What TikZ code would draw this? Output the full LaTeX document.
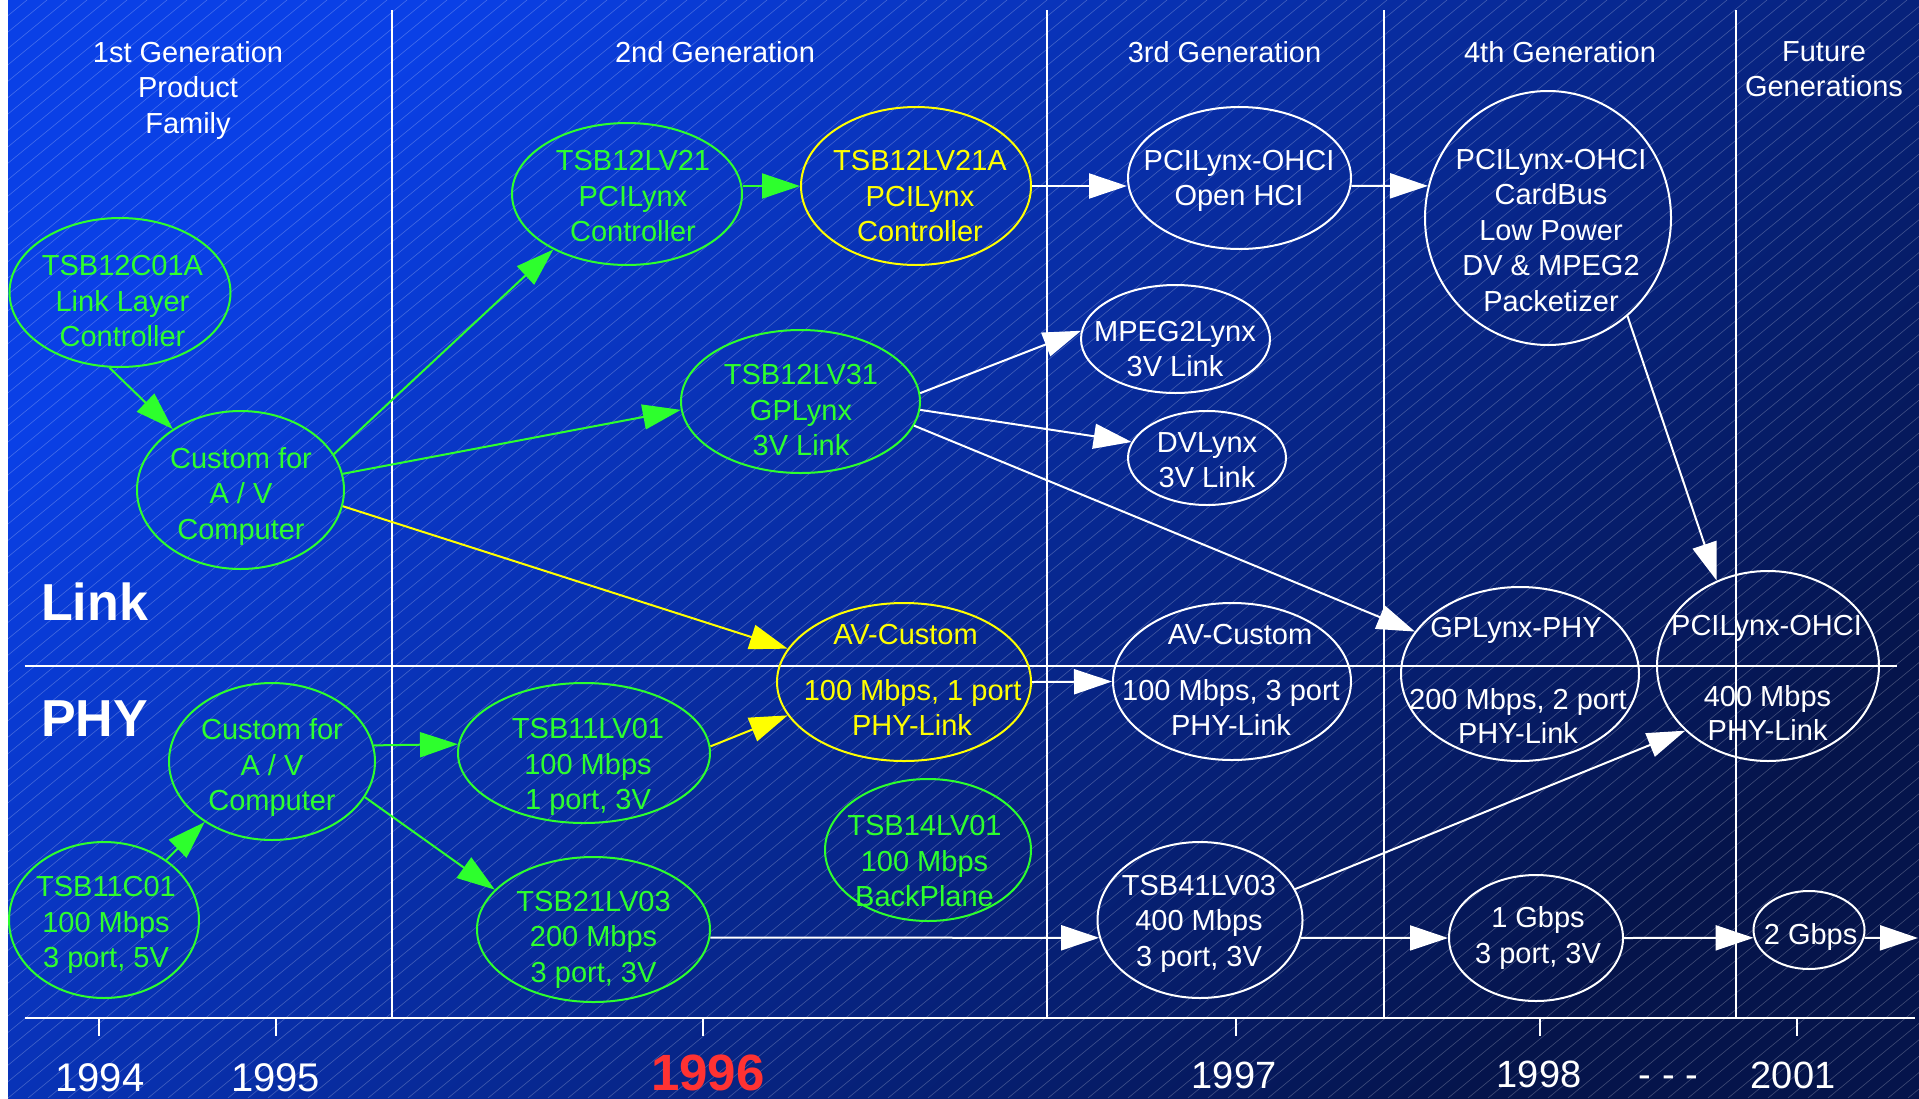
\documentclass[tikz,border=0pt]{standalone}
\usepackage{fontspec}
\setmainfont{Liberation Sans}
\usetikzlibrary{shapes.geometric,arrows.meta}
\definecolor{grn}{RGB}{45,255,45}
\definecolor{yel}{RGB}{255,255,0}
\definecolor{wht}{RGB}{255,255,255}
\definecolor{redy}{RGB}{255,50,50}
\definecolor{bgA}{RGB}{10,64,230}
\definecolor{bgB}{RGB}{5,20,75}
\newcommand{\myfs}[2]{\fontsize{#1}{#2}\selectfont}
\tikzset{
  ell/.style={ellipse, draw=#1, line width=2pt, inner sep=0pt},
  txt/.style={text=#1, font=\myfs{29}{35.5}, align=center, inner sep=0pt},
  arr/.style={draw=#1, line width=2pt, -{Triangle[length=38pt,width=25pt]}},
  sepline/.style={draw=white, line width=2pt},
  hatchline/.style={draw=white, opacity=0.24, line width=0.6pt},
  yr/.style={text=white, font=\myfs{40}{48}, inner sep=0pt, anchor=base},
}
\begin{document}
\begin{tikzpicture}[x=1pt,y=-1pt]
\useasboundingbox (0,0) rectangle (1919,1098);
% background
\fill[white] (0,0) rectangle (1919,1098);
\shade[top color=bgA, bottom color=bgB, shading angle=45] (8,0) rectangle (1919,1098);
\begin{scope}
  \clip (8,0) rectangle (1919,1098);
  \foreach \i in {-68,...,96} {
    \draw[hatchline] ({8+20*\i},1098) -- ++(1339,-1098);
  }
\end{scope}
% grid lines
\foreach \x in {392,1047.3,1384,1736} {
  \draw[sepline] (\x,10) -- (\x,1018);
}
\draw[sepline] (24.5,666) -- (1897,666);
\draw[sepline] (24.5,1017.7) -- (1914.7,1017.7);
\foreach \x in {99,276,702.5,1236,1540,1797} {
  \draw[sepline] (\x,1018) -- (\x,1036);
}
% headers
\node[txt=white] (h1) at (188,90) {1st Generation\\Product\\Family};
\node[txt=white, anchor=base] (h2) at (715,62) {2nd Generation};
\node[txt=white, anchor=base] (h3) at (1224.5,62) {3rd Generation};
\node[txt=white, anchor=base] (h4) at (1560,62) {4th Generation};
\node[txt=white] (h5) at (1824,69) {Future\\Generations};
% Link / PHY
\node[text=white, font=\bfseries\myfs{52}{60}, inner sep=0pt, anchor=base west] (lk) at (41,620) {Link};
\node[text=white, font=\bfseries\myfs{52}{60}, inner sep=0pt, anchor=base west] (ph) at (41,736) {PHY};
% years
\node[yr] (y94) at (100,1091) {1994};
\node[yr] (y95) at (275.5,1091) {1995};
\node[text=redy, font=\bfseries\myfs{51}{60}, inner sep=0pt, anchor=base] (y96) at (708,1090) {1996};
\node[yr, font=\myfs{38}{46}] (y97) at (1234,1088) {1997};
\node[yr, font=\myfs{38}{46}] (y98) at (1539,1087) {1998};
\node[yr, font=\myfs{38}{46}] (ydd) at (1668.5,1087) {- - -};
\node[yr, font=\myfs{38}{46}] (y01) at (1793,1088) {2001};
% ellipses
\node[ell=grn, minimum width=221pt, minimum height=149pt] (e1) at (120,292.5) {};
\node[ell=grn, minimum width=207pt, minimum height=158pt] (e2) at (240.5,490) {};
\node[ell=grn, minimum width=230pt, minimum height=142pt] (e3) at (627,194) {};
\node[ell=yel, minimum width=230pt, minimum height=158pt] (e4) at (916,186) {};
\node[ell=wht, minimum width=223pt, minimum height=142pt] (e5) at (1239.5,178) {};
\node[ell=wht, minimum width=246pt, minimum height=254pt] (e6) at (1548,218) {};
\node[ell=wht, minimum width=189pt, minimum height=108pt] (e7) at (1175.5,339) {};
\node[ell=grn, minimum width=239pt, minimum height=143pt] (e8) at (800.5,401.5) {};
\node[ell=wht, minimum width=158pt, minimum height=94pt] (e9) at (1207,458) {};
\node[ell=yel, minimum width=254pt, minimum height=158pt] (e10) at (904,682) {};
\node[ell=wht, minimum width=238pt, minimum height=157pt] (e11) at (1232,681.5) {};
\node[ell=wht, minimum width=238pt, minimum height=174pt] (e12) at (1520,674) {};
\node[ell=wht, minimum width=222pt, minimum height=190pt] (e13) at (1768,666) {};
\node[ell=grn, minimum width=206pt, minimum height=157pt] (e14) at (272,761.5) {};
\node[ell=grn, minimum width=252pt, minimum height=140pt] (e15) at (584,753) {};
\node[ell=grn, minimum width=190pt, minimum height=156pt] (e16) at (104,920) {};
\node[ell=grn, minimum width=233pt, minimum height=145pt] (e17) at (593.5,929.5) {};
\node[ell=grn, minimum width=206pt, minimum height=142pt] (e18) at (928,850) {};
\node[ell=wht, minimum width=205pt, minimum height=156pt] (e19) at (1200,920) {};
\node[ell=wht, minimum width=174pt, minimum height=126pt] (e20) at (1536,938) {};
\node[ell=wht, minimum width=111pt, minimum height=78pt] (e21) at (1809,930) {};
\coordinate (aend) at (1918,938);
% texts
\node[txt=grn] (t1) at (122.5,301.5) {TSB12C01A\\Link Layer\\Controller};
\node[txt=grn] (t2) at (241,496.5) {Custom for\\A / V\\Computer};
\node[txt=grn] (t3) at (633,196.5) {TSB12LV21\\PCILynx\\Controller};
\node[txt=yel] (t4) at (920,196.5) {TSB12LV21A\\PCILynx\\Controller};
\node[txt=wht] (t5) at (1239,181) {PCILynx-OHCI\\Open HCI};
\node[txt=wht] (t6) at (1551,230.5) {PCILynx-OHCI\\CardBus\\Low Power\\DV \& MPEG2\\Packetizer};
\node[txt=wht] (t7) at (1175,349) {MPEG2Lynx\\3V Link};
\node[txt=grn] (t8) at (801,410.5) {TSB12LV31\\GPLynx\\3V Link};
\node[txt=wht] (t9) at (1207,460) {DVLynx\\3V Link};
\node[txt=yel, anchor=base] (t10a) at (905.5,644) {AV-Custom};
\node[txt=yel, anchor=base] (t10b) at (912.6,700) {100 Mbps, 1 port};
\node[txt=yel, anchor=base] (t10c) at (912,735) {PHY-Link};
\node[txt=wht, anchor=base] (t11a) at (1240,644) {AV-Custom};
\node[txt=wht, anchor=base] (t11b) at (1231,700) {100 Mbps, 3 port};
\node[txt=wht, anchor=base] (t11c) at (1231,735) {PHY-Link};
\node[txt=wht, anchor=base] (t12a) at (1516,637) {GPLynx-PHY};
\node[txt=wht, anchor=base] (t12b) at (1518,709) {200 Mbps, 2 port};
\node[txt=wht, anchor=base] (t12c) at (1518,743) {PHY-Link};
\node[txt=wht, anchor=base] (t13a) at (1766.5,635) {PCILynx-OHCI};
\node[txt=wht, anchor=base] (t13b) at (1767.5,706) {400 Mbps};
\node[txt=wht, anchor=base] (t13c) at (1767.6,740) {PHY-Link};
\node[txt=grn] (t14) at (272,767.8) {Custom for\\A / V\\Computer};
\node[txt=grn] (t15) at (588,767) {TSB11LV01\\100 Mbps\\1 port, 3V};
\node[txt=grn] (t16) at (106,925) {TSB11C01\\100 Mbps\\3 port, 5V};
\node[txt=grn] (t17) at (593.6,939.5) {TSB21LV03\\200 Mbps\\3 port, 3V};
\node[txt=grn] (t18) at (924.5,861.5) {TSB14LV01\\100 Mbps\\BackPlane};
\node[txt=wht] (t19) at (1199,923.5) {TSB41LV03\\400 Mbps\\3 port, 3V};
\node[txt=wht] (t20) at (1538,938) {1 Gbps\\3 port, 3V};
\node[txt=wht, anchor=base] (t21) at (1810.6,944) {2 Gbps};
% arrows
\draw[arr=grn] (e1.262) -- (e2.138);
\draw[arr=grn] (e2.21) -- (e3.217);
\draw[arr=grn] (e2.9) -- (e8.184);
\draw[arr=yel] (e2.-9) -- (e10.164);
\draw[arr=grn] (e3.east |- e4.west) -- (e4.west);
\draw[arr=wht] (e4.east) -- (e4.east -| e5.west);
\draw[arr=wht] (e5.-4) -- (e6.165);
\draw[arr=wht] (e8.4) -- (e7.175);
\draw[arr=wht] (e8.-4) -- (e9.168);
\draw[arr=wht] (e8.-12) -- (e12.158);
\draw[arr=wht] (e6.-51) -- (e13.121);
\draw[arr=wht] (e10.east) -- (e11.west);
\draw[arr=grn] (e14.9) -- (e15.176);
\draw[arr=yel] (e15.3) -- (e10.196);
\draw[arr=grn] (e16.44) -- (e14.222);
\draw[arr=grn] (e14.-21) -- (e17.158);
\draw[arr=wht] (e17.-4) -- (e19.190);
\draw[arr=wht] (e19.18) -- (e13.218);
\draw[arr=wht] (e19.-10) -- (e20.west);
\draw[arr=wht] (e20.east) -- (e21.188);
\draw[arr=wht] (e21.-8) -- (aend);
\end{tikzpicture}
\end{document}
